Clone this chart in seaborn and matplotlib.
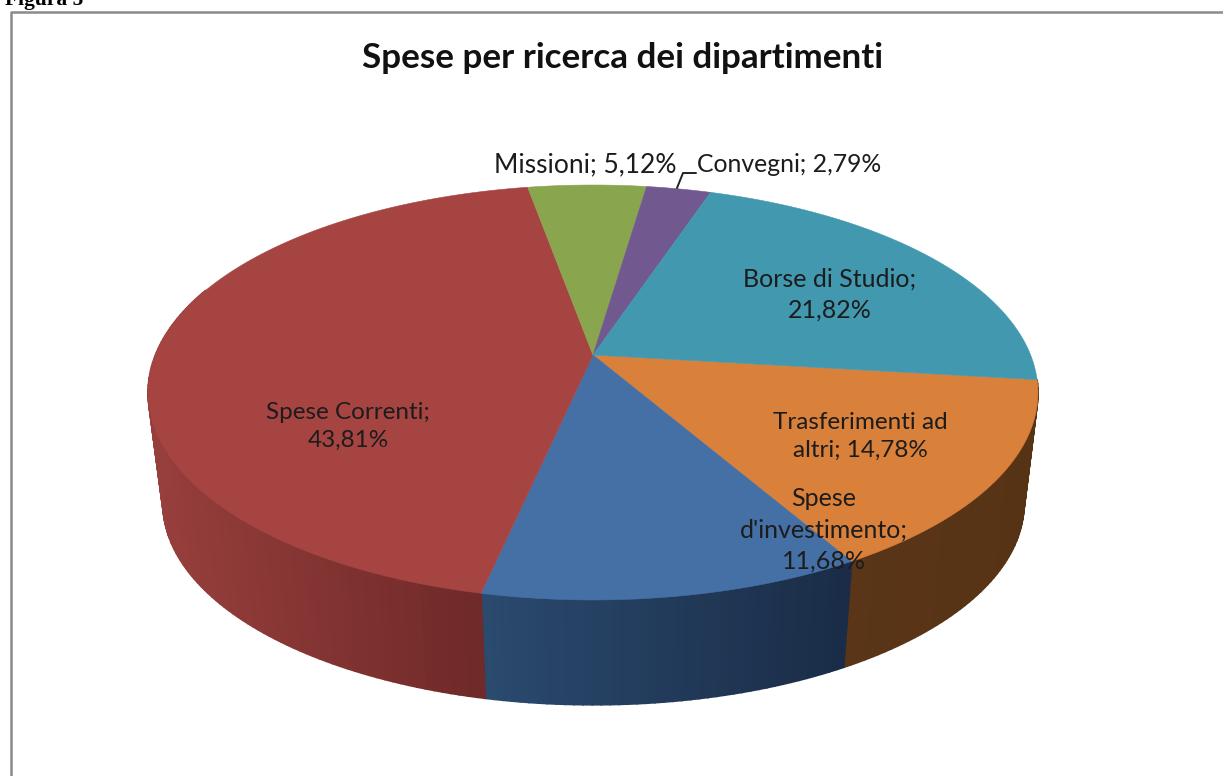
import numpy as np
import matplotlib
matplotlib.use("Agg")
import matplotlib.pyplot as plt
import seaborn as sns
from matplotlib.colors import to_rgb

# Slices in drawing order, clockwise from the right edge of the pie
slices = ["Trasferimenti ad altri", "Spese d'investimento", "Spese Correnti",
          "Missioni", "Convegni", "Borse di Studio"]
shares = [14.78, 11.68, 43.81, 5.12, 2.79, 21.82]
label_lines = ["Trasferimenti ad\naltri; 14,78%", "Spese\nd'investimento;\n11,68%",
               "Spese Correnti;\n43,81%", "Missioni; 5,12%", "Convegni; 2,79%",
               "Borse di Studio;\n21,82%"]
title = "Spese per ricerca dei dipartimenti"

sns.set_theme(style="white")
plt.rcParams['font.family'] = ['Lato', 'DejaVu Sans']

palette = sns.color_palette(["#D9803B", "#4570A5", "#A64442", "#89A54E", "#71588F", "#4198AF"])
wall_left = ["#5A3517", "#2A4A6E", "#973F3C", "#89A54E", "#71588F", "#4198AF"]
wall_right = ["#573316", "#1A2C47", "#6E2928", "#89A54E", "#71588F", "#4198AF"]
label_pos = [(860, 436.5), (824, 530), (348, 426.5), (585, 165), (789, 165), (830, 294.5)]
label_size = [17.5, 18, 17.5, 19, 17.8, 18]

# perspective of the disc: top face and bottom face
persp = 0.1807
top_face = (593, 355, 437.6, 200.7)
bottom_face = (593.5, 467.5, 423.4, 194.4)


def project(theta, face):
    cx, cy, a, b = face
    x, y = np.cos(theta), np.sin(theta)
    w = 1 + persp * y
    return cx + a * x / w, cy - b * y / w


fig, ax = plt.subplots(figsize=(12.23, 7.76), dpi=100)
ax.set_position([0, 0, 1, 1])
ax.set_xlim(0, 1223)
ax.set_ylim(776, 0)
ax.axis("off")

edges = np.radians(-6.9 - np.concatenate([[0], np.cumsum(shares)]) * 3.6)

# side wall, thin strips so the shading can change along it
for i in range(len(shares)):
    start, end = edges[i], edges[i + 1]
    if start < np.radians(-200):
        continue
    end = max(end, np.radians(-200))
    th = np.linspace(start, end, max(int(np.degrees(start - end)), 2) + 1)
    xt, yt = project(th, top_face)
    xb, yb = project(th, bottom_face)
    c0, c1 = np.array(to_rgb(wall_left[i])), np.array(to_rgb(wall_right[i]))
    lo, hi = min(xt.min(), xb.min()), max(xt.max(), xb.max())
    # left to right-hand strips drawn in order, each overlapping the one before
    for j in range(len(th) - 1):
        f = (0.5 * (xt[j] + xt[j + 1]) - lo) / (hi - lo)
        col = c0 + (c1 - c0) * f
        ax.fill([xt[j], xt[j + 1], xb[j + 1], xb[j]], [yt[j], yt[j + 1], yb[j + 1], yb[j]],
                facecolor=col, edgecolor=col, lw=1.2, zorder=2)

# top face
for i in range(len(shares)):
    th = np.linspace(edges[i], edges[i + 1], 120)
    xs, ys = project(th, top_face)
    ax.fill(np.r_[top_face[0], xs], np.r_[top_face[1], ys], color=palette[i], lw=0.4, zorder=3)

for i, txt in enumerate(label_lines):
    ax.text(label_pos[i][0], label_pos[i][1], txt, ha="center", va="center",
            fontsize=label_size[i], color="#1c1c1c", linespacing=1.45, zorder=5)

# leader line for the small slice
ax.plot([677, 683, 696], [188, 173, 173], color="#222222", lw=1.4, zorder=4)

ax.text(623, 58, title, ha="center", va="center", fontsize=25.2, fontweight="bold",
        color="#111111", zorder=5)

# chart frame and the caption cut off by the page
ax.plot([1223, 11, 11], [12, 12, 776], color="#8a8a8a", lw=1.8, zorder=1)
ax.text(5, 5, "Figura 5", ha="left", va="baseline", fontsize=15.5, fontweight="bold",
        family=["Liberation Serif"], color="black", clip_on=True)

fig.savefig("out.png", dpi=100)
